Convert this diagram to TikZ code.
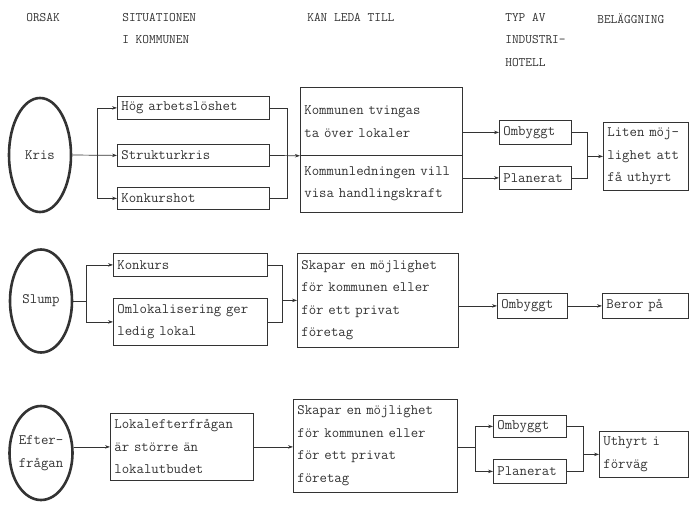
\documentclass[tikz,border=0pt]{standalone}
\usepackage{fontspec}
\usepackage{tikz}
\usetikzlibrary{positioning}
\usetikzlibrary{shapes.geometric}
\usetikzlibrary{arrows.meta}
\newcommand{\kropp}{\ttfamily\fontsize{14.4}{22.5}\selectfont}
\newcommand{\rubrikfont}{\ttfamily\fontsize{13}{22.5}\selectfont}
\colorlet{linje}{black!80}
\colorlet{skrift}{black!80}
\tikzstyle{ruta}=[draw=linje, line width=0.8pt, anchor=north west, align=left, inner xsep=4pt, inner ysep=0pt, text=skrift, font=\kropp]
\tikzstyle{orsak}=[ellipse, draw=linje, line width=2.6pt, inner sep=0pt, align=center, text=skrift, font=\kropp]
\tikzstyle{rubrik}=[anchor=north west, inner sep=0pt, align=left, text=skrift, font=\rubrikfont]
\tikzstyle{pil}=[-{Stealth[length=5pt,width=3.5pt]}]

\begin{document}
\begin{tikzpicture}[x=1pt, y=-1pt, color=linje, line width=0.7pt]
    \useasboundingbox (0,0) rectangle (690,506);

    % column headings
    \node[rubrik] (hOrsak) at (26,13) {ORSAK};
    \node[rubrik] (hSituation) at (122,13) {SITUATIONEN\\I KOMMUNEN};
    \node[rubrik] (hLeda) at (307,13) {KAN LEDA TILL};
    \node[rubrik] (hTyp) at (505,13) {TYP AV\\INDUSTRI-\\HOTELL};
    \node[rubrik] (hBelagg) at (597,13) {BELÄGGNING};

    % 1. Kris
    \node[orsak, minimum width=62pt, minimum height=114pt] (kris) at (40,155) {Kris};
    \node[ruta, minimum width=152pt, minimum height=23pt, text width=144pt] (hog) at (117,96) {Hög arbetslöshet};
    \node[ruta, minimum width=152pt, minimum height=22pt, text width=144pt] (struktur) at (117,144) {Strukturkris};
    \node[ruta, minimum width=152pt, minimum height=22pt, text width=144pt] (konkursh) at (117,187) {Konkurshot};
    \node[ruta, minimum width=162pt, minimum height=68pt, text width=154pt] (ledaA) at (300,87) {Kommunen tvingas\\ta över lokaler};
    \node[ruta, minimum width=162pt, minimum height=57pt, text width=154pt] (ledaB) at (300,155) {Kommunledningen vill\\visa handlingskraft};
    \node[ruta, minimum width=72pt, minimum height=24pt, text width=64pt] (omb1) at (499,120) {Ombyggt};
    \node[ruta, minimum width=85pt, minimum height=68pt, text width=77pt] (liten) at (603,122) {Liten möj-\\lighet att\\få uthyrt};
    \node[ruta, minimum width=72pt, minimum height=23pt, text width=64pt] (plan1) at (499,166) {Planerat};

    \draw[pil] (kris.east) -- (struktur.west);
    \path (kris.east) ++(25,0) coordinate (kf1);
    \draw[pil] (kf1) |- (hog.west);
    \draw[pil] (kf1) |- (konkursh.west);
    \path (ledaA.south west) ++(-13,0) coordinate (kf2);
    \draw (hog.east) -| (kf2);
    \draw (konkursh.east) -| (kf2);
    \draw[pil] (struktur.east) -- (ledaA.south west);
    \draw[pil] (ledaA.east |- omb1.west) -- (omb1.west);
    \draw[pil] (ledaB.east |- plan1.west) -- (plan1.west);
    \path (liten.west) ++(-16,0) coordinate (kf3);
    \draw (omb1.east) -| (kf3);
    \draw (plan1.east) -| (kf3);
    \draw[pil] (kf3) -- (liten.west);

    % 2. Slump
    \node[orsak, minimum width=62pt, minimum height=103pt] (slump) at (41,301) {Slump};
    \node[ruta, minimum width=154pt, minimum height=23pt, text width=146pt] (konkurs) at (113,253) {Konkurs};
    \node[ruta, minimum width=154pt, minimum height=47pt, text width=146pt] (omlok) at (113,298) {Omlokalisering ger\\ledig lokal};
    \node[ruta, minimum width=161pt, minimum height=94pt, text width=153pt] (leda2) at (297,253) {Skapar en möjlighet\\för kommunen eller\\för ett privat\\företag};
    \node[ruta, minimum width=70pt, minimum height=25pt, text width=62pt] (omb2) at (497,293) {Ombyggt};
    \node[ruta, minimum width=86pt, minimum height=25pt, text width=78pt] (beror) at (602,293) {Beror på};

    \draw (slump.east) -- ++(13,0) coordinate (sf1);
    \draw[pil] (sf1) |- (konkurs.west);
    \draw[pil] (sf1) |- (omlok.west);
    \path (leda2.west) ++(-15,0) coordinate (sf2);
    \draw (konkurs.east) -| (sf2);
    \draw (omlok.east) -| (sf2);
    \draw[pil] (sf2) -- (leda2.west);
    \draw[pil] (leda2.east |- omb2.west) -- (omb2.west);
    \draw[pil] (omb2.east) -- (beror.west);

    % 3. Efterfragan
    \node[orsak, minimum width=63pt, minimum height=94pt] (efter) at (41,453) {Efter-\\frågan};
    \node[ruta, minimum width=143pt, minimum height=67pt, text width=135pt] (lok) at (110,413) {Lokalefterfrågan\\är större än\\lokalutbudet};
    \node[ruta, minimum width=164pt, minimum height=93pt, text width=156pt] (leda3) at (293,399) {Skapar en möjlighet\\för kommunen eller\\för ett privat\\företag};
    \node[ruta, minimum width=73pt, minimum height=22pt, text width=65pt] (omb3) at (493,415) {Ombyggt};
    \node[ruta, minimum width=73pt, minimum height=24pt, text width=65pt] (plan3) at (493,459) {Planerat};
    \node[ruta, minimum width=89pt, minimum height=46pt, text width=81pt] (uthyrt) at (599,431) {Uthyrt i\\förväg};

    \draw[pil] (efter.east |- lok.west) -- (lok.west);
    \draw[pil] (lok.east) -- (lok.east -| leda3.west);
    \draw (leda3.east |- lok.east) -- ++(18,0) coordinate (ef1);
    \draw[pil] (ef1) |- (omb3.west);
    \draw[pil] (ef1) |- (plan3.west);
    \path (uthyrt.west) ++(-16,0) coordinate (ef2);
    \draw (omb3.east) -| (ef2);
    \draw (plan3.east) -| (ef2);
    \draw[pil] (ef2) -- (uthyrt.west);
\end{tikzpicture}
\end{document}
